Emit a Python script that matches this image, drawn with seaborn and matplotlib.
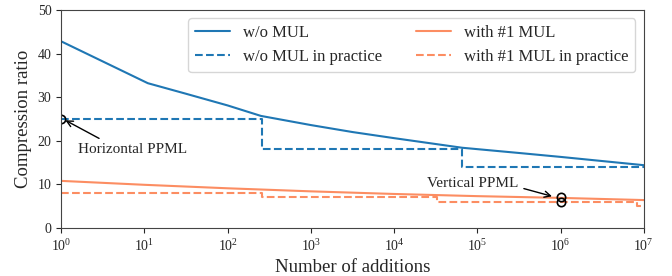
import numpy as np
import pandas as pd
import matplotlib
import matplotlib.pyplot as plt
import seaborn as sns

matplotlib.use('Agg')

# theoretical ratio
base_x = [1, 11, 30, 100, 251, 1000, 3162, 10000, 65536, 316228, 1000000, 10000000]
base_y = [42.8, 33.2, 30.9, 28.1, 25.7, 23.6, 22.0, 20.6, 18.4, 17.2, 16.3, 14.4]

mul_x = [1, 10, 100, 1000, 10000, 100000, 1000000, 10000000]
mul_y = [10.8, 9.9, 9.1, 8.4, 7.8, 7.3, 6.9, 6.4]

# practical ratio (integer steps at powers of two)
base_prac_x = [1, 256, 65536, 10000000]
base_prac_y = [25, 18, 14, 14]

mul_prac_x = [1, 256, 32768, 8388608, 10000000]
mul_prac_y = [8, 7, 6, 5, 5]

blue = '#1f77b4'
orange = '#fc8d62'

sns.set_style('ticks')
plt.rcParams['font.family'] = ['Liberation Serif', 'DejaVu Serif']
plt.rcParams['mathtext.fontset'] = 'stix'

fig, ax = plt.subplots(figsize=(6.72, 2.76), dpi=100)
fig.subplots_adjust(left=0.091, right=0.958, top=0.964, bottom=0.174)

sns.lineplot(x=base_x, y=base_y, ax=ax, color=blue, lw=1.5, label='w/o MUL')
sns.lineplot(x=base_prac_x, y=base_prac_y, ax=ax, color=blue, lw=1.5,
             linestyle='--', drawstyle='steps-post', label='w/o MUL in practice')
sns.lineplot(x=mul_x, y=mul_y, ax=ax, color=orange, lw=1.5, label='with #1 MUL')
sns.lineplot(x=mul_prac_x, y=mul_prac_y, ax=ax, color=orange, lw=1.5,
             linestyle='--', drawstyle='steps-post', label='with #1 MUL in practice')

# PPML markers
ax.plot([1], [25], 'o', mfc='none', mec='black', ms=6, mew=1.2)
ax.plot([1e6, 1e6], [7, 6], 'o', mfc='none', mec='black', ms=6, mew=1.2)

ax.annotate('Horizontal PPML', xy=(1.05, 25), xytext=(1.6, 18), va='center',
            fontsize=11, arrowprops=dict(arrowstyle='->', color='black', lw=1,
                                         relpos=(0.27, 1)))
ax.annotate('Vertical PPML', xy=(8.5e5, 7.1), xytext=(10 ** 4.39, 10.3), va='center',
            fontsize=11, arrowprops=dict(arrowstyle='->', color='black', lw=1,
                                         relpos=(1, 0.2)))

ax.set_xscale('log')
ax.set_xlim(1, 1e7)
ax.set_ylim(0, 50)
ax.set_xticks([10 ** i for i in range(8)])
ax.minorticks_off()
ax.tick_params(labelsize=10)
ax.set_xlabel('Number of additions', fontsize=13.5)
ax.set_ylabel('Compression ratio', fontsize=13.5)
for s in ax.spines.values():
    s.set_color('#444444')

ax.legend(loc='upper right', ncol=2, fontsize=12, columnspacing=2.0,
          handlelength=2.1)

plt.savefig('out.png', dpi=100)
plt.close()
